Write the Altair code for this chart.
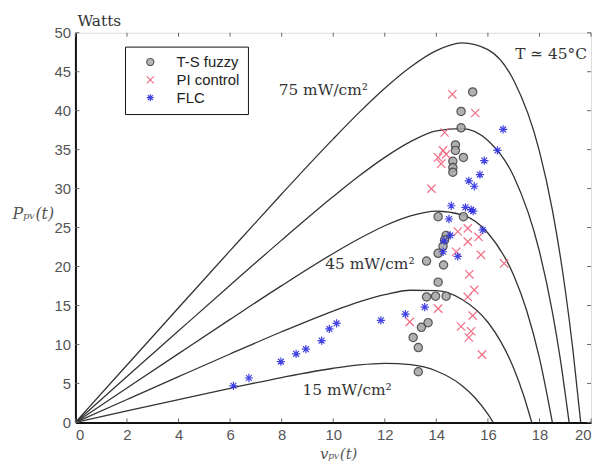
import altair as alt
import pandas as pd

# ---- PV curves ----
v75 = [0, 2, 4, 6, 8, 10, 11, 12, 13, 14, 15, 16, 17, 18, 18.5, 19, 19.3, 19.6]
p75 = [0, 7.36, 14.71, 22.04, 29.31, 36.38, 39.75, 42.88, 45.61, 47.71, 48.71, 47.84, 43.90, 34.77, 27.26, 17.02, 9.24, 0]
v60 = [0, 2, 4, 6, 8, 10, 11, 12, 13, 14, 15, 16, 17, 18, 18.5, 18.8, 19.15]
p60 = [0, 5.88, 11.75, 17.60, 23.39, 28.98, 31.61, 34.01, 36.03, 37.41, 37.70, 36.17, 31.59, 21.93, 14.19, 8.31, 0]
v45 = [0, 2, 4, 6, 8, 10, 11, 12, 13, 14, 15, 16, 17, 17.5, 18, 18.5]
p45 = [0, 4.42, 8.83, 13.22, 17.55, 21.68, 23.56, 25.23, 26.50, 27.12, 26.64, 24.30, 18.87, 14.39, 8.25, 0]
v30 = [0, 2, 4, 6, 8, 10, 11, 12, 13, 14, 15, 16, 16.5, 17, 17.4, 17.7]
p30 = [0, 2.94, 5.87, 8.78, 11.63, 14.29, 15.46, 16.39, 16.96, 16.90, 15.77, 12.85, 10.37, 6.95, 3.33, 0]
v15 = [0, 2, 4, 6, 8, 10, 11, 12, 13, 14, 15, 15.5, 16, 16.2]
p15 = [0, 1.47, 2.93, 4.38, 5.76, 6.95, 7.38, 7.58, 7.41, 6.60, 4.72, 3.17, 1.05, 0]

# ---- Operating points ----
ts_v = [15.41, 14.96, 14.96, 14.74, 14.74, 15.05, 14.64, 14.64, 14.64, 14.07, 15.05, 14.38, 14.32, 14.26,
        14.07, 13.62, 14.28, 14.07, 13.62, 13.97, 14.38, 13.68, 13.42, 13.10, 13.30, 13.30]
ts_p = [42.4, 39.9, 37.8, 35.6, 34.9, 34.0, 33.5, 32.7, 32.1, 26.4, 26.4, 24.0, 23.4, 22.6,
        21.7, 20.7, 20.2, 18.0, 16.1, 16.2, 16.2, 12.8, 12.2, 10.9, 9.6, 6.5]

pi_v = [14.62, 15.51, 14.32, 14.26, 14.07, 14.38, 14.19, 13.81, 14.83, 15.22, 15.22, 15.64, 14.77,
        15.73, 16.63, 15.28, 15.47, 15.22, 14.07, 15.41, 12.97, 14.96, 15.35, 15.26, 15.77]
pi_p = [42.1, 39.7, 37.2, 34.9, 34.0, 34.4, 33.2, 30.0, 24.5, 24.9, 23.2, 23.8, 21.9,
        21.5, 20.4, 19.0, 17.0, 16.1, 14.6, 13.7, 12.9, 12.3, 11.7, 10.9, 8.7]

flc_v = [6.13, 6.73, 7.97, 8.56, 8.94, 9.55, 9.85, 10.13, 11.85, 12.80, 13.55, 16.59, 16.37, 15.86,
         15.69, 15.26, 15.47, 14.58, 15.13, 15.35, 15.43, 14.49, 15.80, 14.54, 14.83, 14.26, 14.30]
flc_p = [4.7, 5.7, 7.8, 8.8, 9.4, 10.5, 12.0, 12.7, 13.1, 13.9, 14.8, 37.6, 34.9, 33.6,
         31.8, 31.0, 30.3, 27.8, 27.6, 27.3, 27.1, 26.1, 24.7, 24.0, 21.3, 21.9, 23.3]

methods = ["T-S fuzzy", "PI control", "FLC"]
x_ticks = [0, 2, 4, 6, 8, 10, 12, 14, 16, 18, 20]
y_ticks = [0, 5, 10, 15, 20, 25, 30, 35, 40, 45, 50]

curves = pd.concat([
    pd.DataFrame({"v": v, "p": p, "curve": name})
    for v, p, name in [(v75, p75, "75"), (v60, p60, "60"), (v45, p45, "45"), (v30, p30, "30"), (v15, p15, "15")]
])
pts = pd.concat([
    pd.DataFrame({"v": ts_v, "p": ts_p, "method": methods[0]}),
    pd.DataFrame({"v": pi_v, "p": pi_p, "method": methods[1]}),
    pd.DataFrame({"v": flc_v, "p": flc_p, "method": methods[2]}),
])

W, H = 520, 393
xs = alt.Scale(domain=[0, 20], nice=False)
ys = alt.Scale(domain=[0, 50], nice=False)

x_axis = alt.Axis(values=x_ticks, ticks=False, grid=False, labelFont="Liberation Sans", labelFontSize=15,
                  labelColor="#555", labelPadding=5, domainColor="#111", domainWidth=2,
                  title="vₚᵥ(t)", titleFont="DejaVu Serif", titleFontStyle="italic", titleFontWeight="normal",
                  titleFontSize=15, titleColor="#555", titleX=265, titleY=31, titleBaseline="middle",
                  titleAlign="center")
y_axis = alt.Axis(values=y_ticks, ticks=False, grid=False, labelFont="Liberation Sans", labelFontSize=15,
                  labelColor="#555", labelPadding=5, domainColor="#111", domainWidth=2,
                  title="Pₚᵥ(t)", titleFont="DejaVu Serif", titleFontStyle="italic", titleFontWeight="normal",
                  titleFontSize=16, titleColor="#555", titleAngle=0, titleX=-43, titleY=182,
                  titleBaseline="middle", titleAlign="center")

X = alt.X("v:Q", scale=xs, axis=x_axis)
Y = alt.Y("p:Q", scale=ys, axis=y_axis)

lines = alt.Chart(curves).mark_line(color="#333", strokeWidth=1.3, interpolate="monotone").encode(
    x=X, y=Y, detail="curve:N",
)

xpath = "M-1,-1L1,1M1,-1L-1,1"
star = "M0,-1L0,1M-1,0L1,0M-0.7,-0.7L0.7,0.7M-0.7,0.7L0.7,-0.7"
legend = alt.Legend(orient="none", legendX=50, legendY=14, title=None, strokeColor="#111", fillColor="white",
                    padding=8, labelFont="Liberation Sans", labelFontSize=15, labelColor="#222",
                    symbolOffset=10, labelOffset=19, rowPadding=2, symbolSize=50)
points = alt.Chart(pts).mark_point(opacity=0.9, size=70).encode(
    x=X, y=Y,
    shape=alt.Shape("method:N", scale=alt.Scale(domain=methods, range=["circle", xpath, star]), legend=legend),
    stroke=alt.Stroke("method:N", scale=alt.Scale(domain=methods, range=["#444444", "#f0607a", "#2f2fe0"]), legend=legend),
    fill=alt.Fill("method:N", scale=alt.Scale(domain=methods, range=["#a9a9a9", "#f0607a", "#2f2fe0"]), legend=legend),
    strokeWidth=alt.StrokeWidth("method:N", scale=alt.Scale(domain=methods, range=[1.2, 1.2, 2.0]), legend=None),
)

xt = pd.DataFrame({"v": x_ticks})
yt = pd.DataFrame({"p": y_ticks})
tick_style = dict(color="#666", strokeWidth=1)
ticks = [
    alt.Chart(xt).mark_rule(**tick_style).encode(x=X, y=alt.value(H), y2=alt.value(H - 4)),
    alt.Chart(xt).mark_rule(**tick_style).encode(x=X, y=alt.value(0), y2=alt.value(4)),
    alt.Chart(yt).mark_rule(**tick_style).encode(y=Y, x=alt.value(0), x2=alt.value(4)),
    alt.Chart(yt).mark_rule(**tick_style).encode(y=Y, x=alt.value(W), x2=alt.value(W - 4)),
]

labels = ["75 mW/cm²", "45 mW/cm²", "15 mW/cm²", "T ≃ 45°C", "Watts"]
one = pd.DataFrame({"k": [0]})
def note(txt, x, y, align="center"):
    return alt.Chart(one).mark_text(text=txt, font="DejaVu Serif", fontSize=15.5, color="#333",
                                    align=align, baseline="middle").encode(x=alt.value(x), y=alt.value(y))

notes = [
    note(labels[0], 250, 58),
    note(labels[1], 297, 233),
    note(labels[2], 274, 360),
    note(labels[3], 516, 21, "right"),
    note(labels[4], 2, -12, "left"),
]

chart = alt.layer(lines, *ticks, points, *notes).properties(
    width=W, height=H,
    autosize=alt.AutoSizeParams(type="none"),
    padding={"left": 68, "top": 23, "right": 2, "bottom": 41},
).configure_view(stroke="#111", strokeWidth=1.5).configure(background="white")

chart.save("out.html", embed_options={"renderer": "svg", "actions": False})
